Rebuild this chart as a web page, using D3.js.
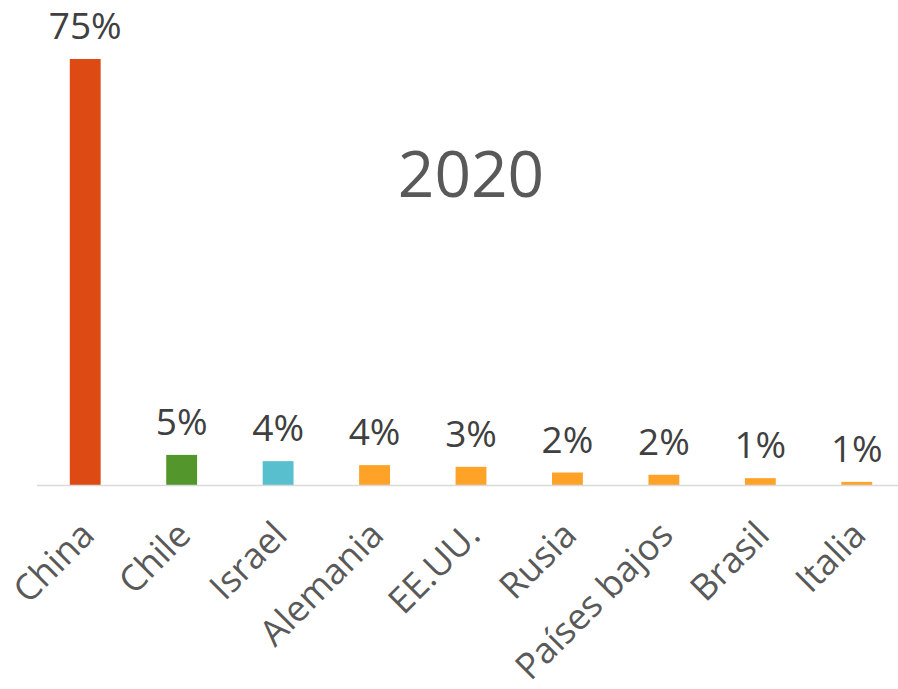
<!DOCTYPE html>
<html>
<head>
<meta charset="utf-8">
<script src="https://cdn.jsdelivr.net/npm/d3@7"></script>
<style>
  body { margin: 0; background: #fff; }
  text { font-family: "Open Sans", "DejaVu Sans", sans-serif; }
</style>
</head>
<body>
<div id="chart"></div>
<script>
// data (percent)
var countries = ["China", "Chile", "Israel", "Alemania", "EE.UU.", "Rusia", "Países bajos", "Brasil", "Italia"];
var shares = [75, 5.3, 4.2, 3.5, 3.2, 2.2, 1.8, 1.2, 0.55];
var barColors = ["#dd4a13", "#53962b", "#57bfce", "#ffa228", "#ffa228", "#ffa228", "#ffa228", "#ffa228", "#ffa228"];
var title = "2020";

var width = 898, height = 689;
var baseY = 485;

var svg = d3.select("#chart").append("svg")
  .attr("width", width)
  .attr("height", height);

var x = d3.scaleBand()
  .domain(countries)
  .range([37, 905])
  .paddingInner(0.68)
  .paddingOuter(0.34);

var y = d3.scaleLinear()
  .domain([0, 75])
  .range([baseY, 59]);

// bars
svg.selectAll("rect.bar")
  .data(shares)
  .enter()
  .append("rect")
  .attr("class", "bar")
  .attr("x", function(d, i) { return x(countries[i]); })
  .attr("y", function(d) { return y(d); })
  .attr("width", x.bandwidth())
  .attr("height", function(d) { return baseY - y(d); })
  .style("fill", function(d, i) { return barColors[i]; });

// axis line
svg.append("line")
  .attr("x1", x.range()[0])
  .attr("x2", x.range()[1])
  .attr("y1", baseY + 0.5)
  .attr("y2", baseY + 0.5)
  .style("stroke", "#d9d9d9")
  .style("stroke-width", 1.5);

// value labels
svg.selectAll("text.val")
  .data(shares)
  .enter()
  .append("text")
  .attr("class", "val")
  .attr("x", function(d, i) { return x(countries[i]) + x.bandwidth() / 2; })
  .attr("y", function(d) { return y(d) - 20; })
  .attr("text-anchor", "middle")
  .style("font-size", "37px")
  .style("fill", "#404040")
  .text(function(d) { return Math.round(d) + "%"; });

// category labels
svg.selectAll("text.cat")
  .data(countries)
  .enter()
  .append("text")
  .attr("class", "cat")
  .attr("transform", function(d) {
    return "translate(" + (x(d) + x.bandwidth() / 2 - 7) + "," + 519 + ") rotate(-45)";
  })
  .attr("dy", "0.714em")
  .attr("text-anchor", "end")
  .style("font-size", "36px")
  .style("fill", "#595959")
  .text(function(d) { return d; });

// title
svg.append("text")
  .attr("x", 471)
  .attr("y", 197)
  .attr("text-anchor", "middle")
  .style("font-size", "64px")
  .style("fill", "#595959")
  .text(title);
</script>
</body>
</html>
